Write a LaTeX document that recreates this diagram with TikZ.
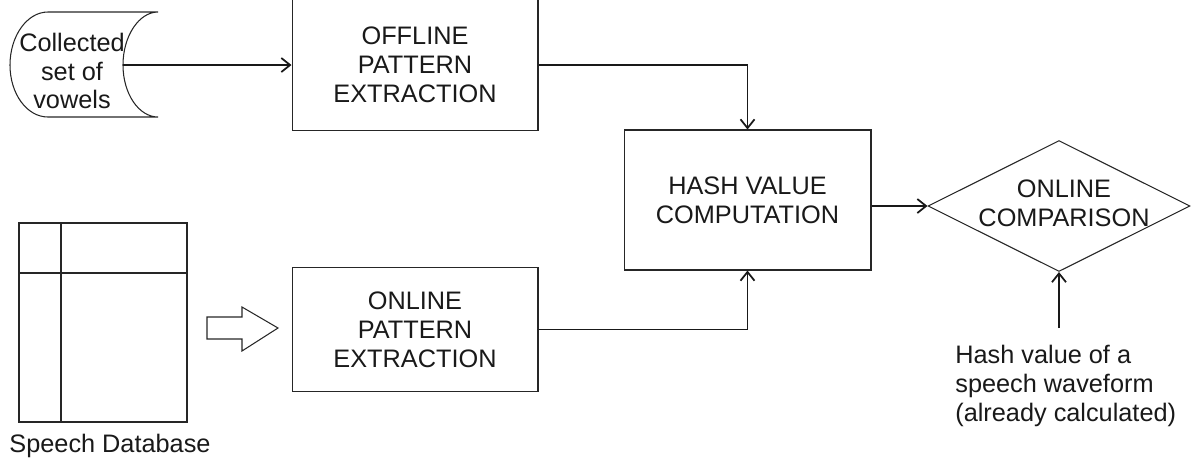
\documentclass[tikz,border=0pt]{standalone}
\usepackage{fontspec}
\setmainfont{Liberation Sans}
\usepackage{tikz}
\usetikzlibrary{calc,positioning,arrows.meta,shapes}
\tikzset{
  >={Straight Barb[length=5pt,width=8pt]},
  procbox/.style={rectangle, draw=black!85, line width=0.6pt, text=black!90,
                  align=center, font=\fontsize{14.4}{16.4}\selectfont},
  decide/.style={diamond, draw=black!85, line width=0.6pt, inner sep=0pt,
                 minimum width=5.24cm, minimum height=2.62cm},
  txt/.style={text=black!90, font=\fontsize{14.4}{16.4}\selectfont},
  line/.style={draw=black!90, line width=1pt, ->}
}

\begin{document}
\begin{tikzpicture}[x=0.02cm,y=-0.02cm]
    \useasboundingbox (0,0) rectangle (1197,464);
    % Draw stored data
    \draw [draw=black!85,line width=0.6pt]
          (48,12) .. controls (27,12) and (10,36) .. (10,65)
                  .. controls (10,94) and (27,117) .. (48,117) -- (158,117)
                  .. controls (139,117) and (123,94) .. (123,65)
                  .. controls (123,36) and (139,12) .. (158,12) -- cycle;
    \node (vowels) [txt,align=center] at (72,71) {Collected\\set of\\vowels};
    \coordinate (vowout) at (123,65);
    % Draw database
    \draw [draw=black!85,line width=0.6pt] (19,223) rectangle (187,422)
          (61,223) -- (61,422)
          (19,273) -- (187,273);
    \node (dblabel) [txt] at (110,446) {Speech Database};
    \draw [draw=black!85,line width=0.6pt]
          (207,317) -- (242,317) -- (242,307) -- (278,328) -- (242,351)
          -- (242,339) -- (207,339) -- cycle;
    % Draw boxes
    \node (offline) [procbox,minimum width=4.92cm,minimum height=2.62cm] at (415,65)
          {OFFLINE\\PATTERN\\EXTRACTION};
    \node (online) [procbox,minimum width=4.92cm,minimum height=2.48cm] at (415,329.5)
          {ONLINE\\PATTERN\\EXTRACTION};
    \node (hash) [procbox,minimum width=4.94cm,minimum height=2.8cm] at (747.5,200)
          {HASH VALUE\\COMPUTATION};
    \node (cmp) [decide] at (1059,206) {};
    \node (cmptext) [txt,align=center] at (1064,203) {ONLINE\\COMPARISON};
    \node (hashval) [txt,align=left,anchor=north west,inner sep=0pt] at (955,345)
          {Hash value of a\\speech waveform\\(already calculated)};
    \coordinate (hvtop) at (1059,328);
    % Draw connectors
    \draw [line] (vowout) -- (offline.west);
    \draw [line] (offline.east) -| (hash.north);
    \draw [line] (online.east) -| (hash.south);
    \draw [line] (hash.east |- cmp.west) -- (cmp.west);
    \draw [line] (hvtop) -- (cmp.south);

\end{tikzpicture}
\end{document}
